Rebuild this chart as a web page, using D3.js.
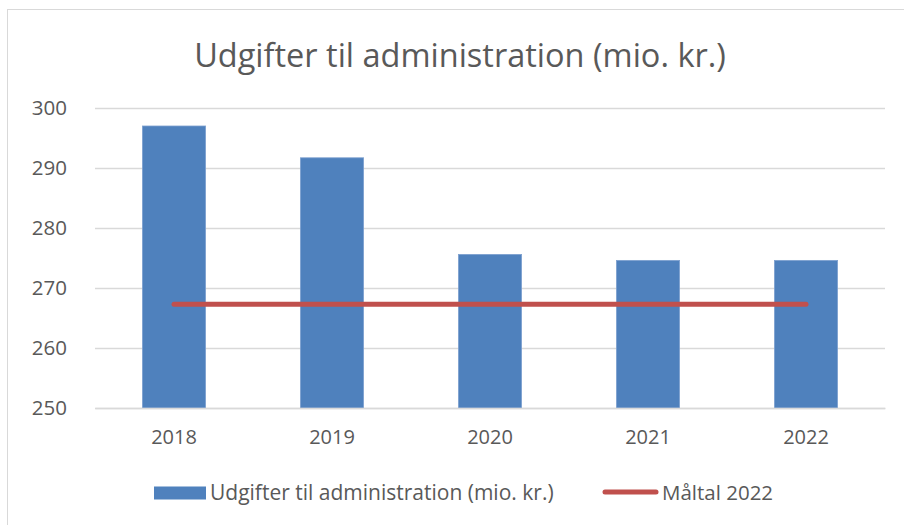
<!DOCTYPE html>
<html>
<head>
<meta charset="utf-8">
<script src="https://cdn.jsdelivr.net/npm/d3@7"></script>
<style>
  body { margin: 0; background: #fff; }
  text { font-family: "Open Sans", sans-serif; fill: #595959; }
</style>
</head>
<body>
<svg id="chart"></svg>
<script>
var years = ["2018", "2019", "2020", "2021", "2022"];
var udgifter = [297.0, 291.7, 275.6, 274.6, 274.6];
var maaltal = [267.3, 267.3, 267.3, 267.3, 267.3];
var yTicks = [250, 260, 270, 280, 290, 300];
var titleText = "Udgifter til administration (mio. kr.)";
var seriesNames = ["Udgifter til administration (mio. kr.)", "Måltal 2022"];

var W = 904, H = 525;
var margin = { top: 108, right: 19, bottom: 117, left: 95 },
	width = W - margin.left - margin.right,
	height = H - margin.top - margin.bottom;

var svg = d3.select('#chart')
	.attr('width', W)
	.attr('height', H);

// outer chart border (runs off the right and bottom edge)
svg.append('rect')
	.attr('x', 7.5).attr('y', 9.5)
	.attr('width', W + 10).attr('height', H + 10)
	.attr('fill', 'none')
	.attr('stroke', '#d9d9d9');

svg.append('text')
	.attr('x', 460).attr('y', 67)
	.attr('text-anchor', 'middle')
	.style('font-size', '32.5px')
	.text(titleText);

var g = svg.append('g')
	.attr('transform', 'translate(' + margin.left + ',' + margin.top + ')');

var x = d3.scaleBand()
	.domain(years)
	.range([0, width])
	.paddingInner(0.6)
	.paddingOuter(0.3);

var y = d3.scaleLinear()
	.domain([250, 300])
	.range([height, 0]);

/* gridlines + y labels */
var yAxis = d3.axisLeft(y)
	.tickValues(yTicks)
	.tickSize(-width)
	.tickPadding(28);

g.append('g')
	.attr('class', 'y_axis')
	.call(yAxis)
	.call(function(a) {
		a.select('.domain').remove();
		a.selectAll('line').attr('stroke', '#d9d9d9').attr('stroke-width', 1.3);
		a.selectAll('text').style('font-size', '20.5px').attr('fill', '#595959');
	});

/* bars */
g.selectAll('.bar')
	.data(udgifter)
	.enter().append('rect')
	.attr('class', 'bar')
	.attr('x', function(d, i) { return x(years[i]); })
	.attr('y', function(d) { return y(d); })
	.attr('width', x.bandwidth())
	.attr('height', function(d) { return height - y(d); })
	.attr('fill', '#4f81bd')
	.attr('stroke', '#7ea1d0')
	.attr('stroke-width', 0.8);

/* x axis */
var xAxis = d3.axisBottom(x).tickSize(0).tickPadding(22);
g.append('g')
	.attr('class', 'x_axis')
	.attr('transform', 'translate(0,' + height + ')')
	.call(xAxis)
	.call(function(a) {
		a.select('.domain').attr('stroke', '#d9d9d9').attr('stroke-width', 1.3);
		a.selectAll('text').style('font-size', '20px').attr('fill', '#595959');
	});

/* target line */
var line = d3.line()
	.x(function(d, i) { return x(years[i]) + x.bandwidth() / 2; })
	.y(function(d) { return y(d); });

g.append('path')
	.datum(maaltal)
	.attr('d', line)
	.attr('fill', 'none')
	.attr('stroke', '#c0504d')
	.attr('stroke-width', 5)
	.attr('stroke-linecap', 'round');

/* legend */
var leg = svg.append('g');
leg.append('rect')
	.attr('x', 154).attr('y', 486.5)
	.attr('width', 52).attr('height', 13)
	.attr('fill', '#4f81bd');
leg.append('text')
	.attr('x', 210).attr('y', 500)
	.style('font-size', '21px')
	.text(seriesNames[0]);
leg.append('line')
	.attr('x1', 605).attr('x2', 656)
	.attr('y1', 492).attr('y2', 492)
	.attr('stroke', '#c0504d')
	.attr('stroke-width', 5)
	.attr('stroke-linecap', 'round');
leg.append('text')
	.attr('x', 662).attr('y', 500)
	.style('font-size', '20.5px')
	.text(seriesNames[1]);
</script>
</body>
</html>
